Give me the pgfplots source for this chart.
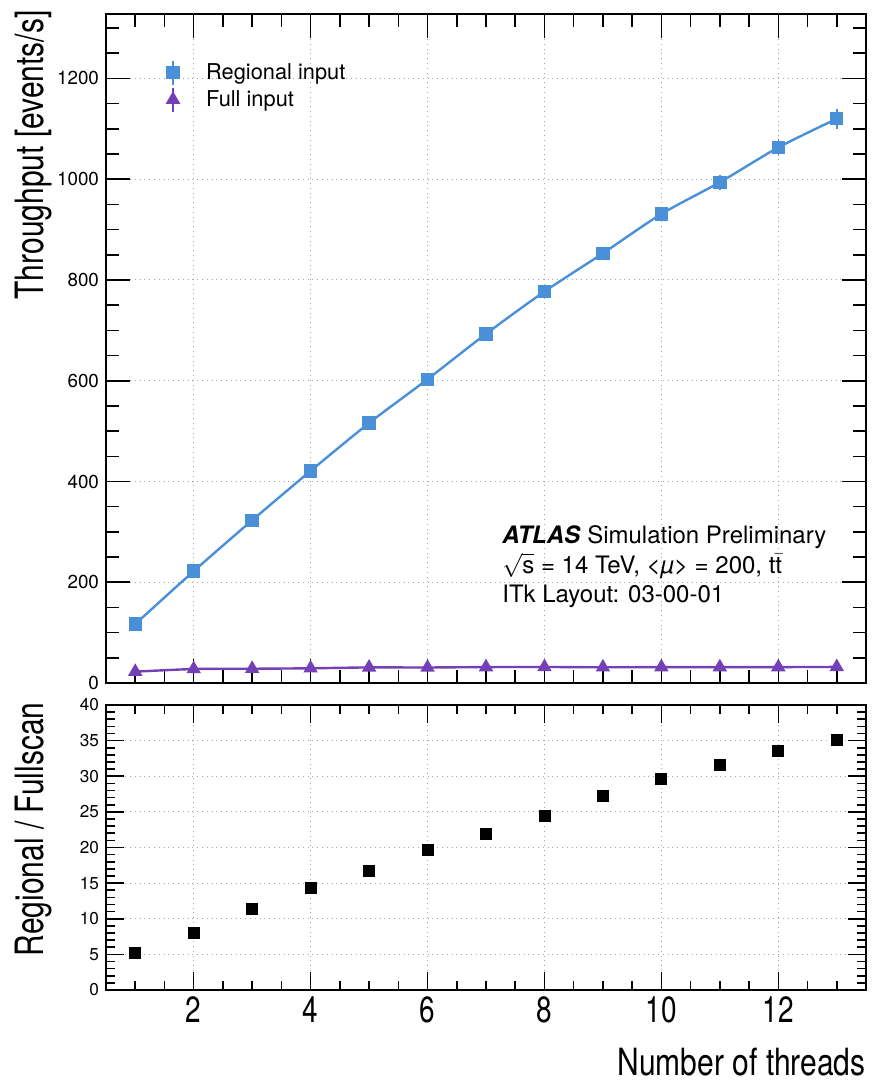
\documentclass[border=0pt]{standalone}
\usepackage{pgfplots}
\pgfplotsset{compat=1.18}
\usepackage{fontspec}
\setmainfont{TeX Gyre Heros}
\usepackage{graphicx}

\definecolor{regblue}{RGB}{74,144,217}
\definecolor{fullpurple}{RGB}{116,64,181}

\pgfplotsset{
  atlaspanel/.style={
    width=380pt, scale only axis,
    xmin=0.5, xmax=13.5,
    xtick={2,4,...,12},
    minor xtick={0.5,1,...,13.5},
    tick align=inside,
    xtick pos=both, ytick pos=both,
    grid=major,
    grid style={dotted, gray!70, line width=0.5pt},
    axis line style={line width=1pt},
    major tick style={line width=0.8pt, black},
    minor tick style={line width=0.8pt, black},
    /pgf/number format/assume math mode=true,
    /pgf/number format/1000 sep={},
  },
  errbar/.style={error bars/.cd, y dir=both, y explicit, error mark=none,
    error bar style={line width=0.8pt}},
}

\begin{document}
\begin{tikzpicture}
\begin{axis}[
    atlaspanel,
    name=top,
    height=334.5pt,
    ymin=0, ymax=1328,
    ytick={0,200,...,1200},
    minor ytick={0,50,...,1300},
    xticklabels={},
    major tick length=12pt,
    minor tick length=6.5pt,
    yticklabel style={font=\fontsize{9.4}{11}\selectfont},
    ylabel={\scalebox{1}[1.3]{Throughput [events/s]}},
    ylabel style={at={(axis description cs:-0.071,1.006)}, anchor=south east,
      inner sep=0pt, font=\fontsize{15}{18}\selectfont},
    legend style={at={(axis description cs:0.065,0.933)}, anchor=north west,
      draw=none, fill=none, inner sep=0pt, row sep=0pt,
      font=\fontsize{10.9}{13}\selectfont,
      nodes={inner sep=2pt}},
    legend cell align=left,
    legend image code/.code={
      \draw[line width=0.8pt] (8pt,-6pt)--(8pt,6pt);
      \draw[only marks] plot coordinates {(8pt,0pt)};
      \path (0pt,0pt) (22pt,0pt);
    },
]
\addplot[regblue, line width=1.2pt, smooth, mark=square*, mark size=2.75pt,
  errbar] coordinates {
  (1,117) +- (0,4)
  (2,222) +- (0,5)
  (3,323) +- (0,6)
  (4,421) +- (0,6)
  (5,516) +- (0,7)
  (6,603) +- (0,8)
  (7,693) +- (0,9)
  (8,777) +- (0,10)
  (9,853) +- (0,11)
  (10,931) +- (0,13)
  (11,994) +- (0,15)
  (12,1063) +- (0,16)
  (13,1120) +- (0,20)
};
\addplot[fullpurple, line width=1.2pt, smooth, mark=triangle*, mark size=3pt,
  errbar] coordinates {
  (1,22.5) +- (0,1)
  (2,27.7) +- (0,1)
  (3,28.3) +- (0,1)
  (4,29.2) +- (0,1)
  (5,30.9) +- (0,1)
  (6,30.8) +- (0,1)
  (7,31.6) +- (0,1)
  (8,31.8) +- (0,1)
  (9,31.2) +- (0,1)
  (10,31.5) +- (0,1)
  (11,31.5) +- (0,1)
  (12,31.6) +- (0,1)
  (13,31.9) +- (0,1)
};
\legend{Regional input, Full input}
\node[anchor=base west, inner sep=0pt, font=\fontsize{12}{14}\selectfont]
  at (axis description cs:0.521,0.209) {\textbf{\textit{ATLAS}} Simulation Preliminary};
\node[anchor=base west, inner sep=0pt, font=\fontsize{12}{14}\selectfont]
  at (axis description cs:0.521,0.164) {$\sqrt{\mbox{s}}$ = 14 TeV, \textit{<µ>} = 200, t$\bar{\mbox{t}}$};
\node[anchor=base west, inner sep=0pt, font=\fontsize{12}{14}\selectfont]
  at (axis description cs:0.521,0.121) {ITk Layout: 03-00-01};
\end{axis}

\begin{axis}[
    atlaspanel,
    name=bot,
    at={(top.south west)}, anchor=north west, yshift=-11pt,
    height=142.5pt,
    ymin=0, ymax=40,
    ytick={0,5,...,40},
    minor ytick={0,1,...,40},
    xticklabels={\scalebox{1}[1.3]{2},\scalebox{1}[1.3]{4},\scalebox{1}[1.3]{6},
      \scalebox{1}[1.3]{8},\scalebox{1}[1.3]{10},\scalebox{1}[1.3]{12}},
    xticklabel style={font=\fontsize{14}{16}\selectfont},
    major tick length=9pt,
    minor tick length=4.5pt,
    yticklabel style={font=\fontsize{8.6}{10}\selectfont},
    ylabel={\scalebox{1}[1.3]{Regional / Fullscan}},
    ylabel style={at={(axis description cs:-0.071,1.01)}, anchor=south east,
      inner sep=0pt, font=\fontsize{15}{18}\selectfont},
    xlabel={\scalebox{1}[1.25]{Number of threads}},
    xlabel style={at={(axis description cs:1,0)}, anchor=north east,
      yshift=-29pt, inner sep=0pt, font=\fontsize{15}{18}\selectfont},
]
\addplot[black, only marks, mark=square*, mark size=2.75pt, errbar] coordinates {
  (1,5.2) +- (0,0.3)
  (2,8.0) +- (0,0.3)
  (3,11.4) +- (0,0.4)
  (4,14.4) +- (0,0.4)
  (5,16.7) +- (0,0.4)
  (6,19.6) +- (0,0.8)
  (7,21.9) +- (0,0.4)
  (8,24.4) +- (0,0.5)
  (9,27.3) +- (0,0.5)
  (10,29.6) +- (0,0.6)
  (11,31.6) +- (0,0.7)
  (12,33.6) +- (0,0.8)
  (13,35.1) +- (0,0.9)
};
\end{axis}
\pgfresetboundingbox
\useasboundingbox ([xshift=-53pt,yshift=7pt]top.north west)
  rectangle ([xshift=7pt,yshift=-45.5pt]bot.south east);
\end{tikzpicture}
\end{document}
